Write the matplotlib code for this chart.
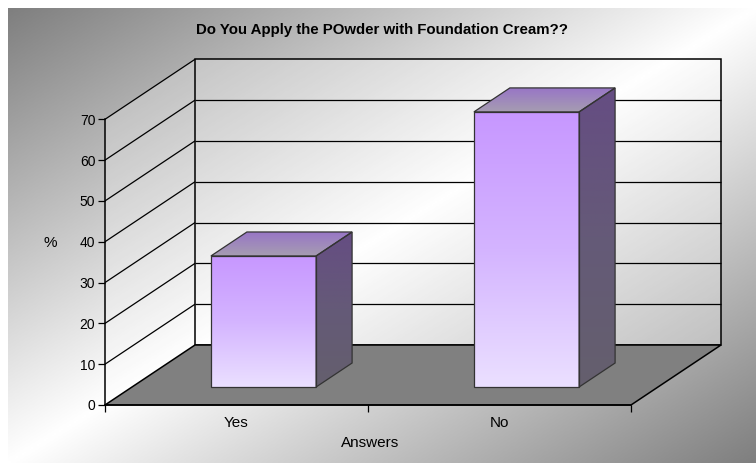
import numpy as np
import matplotlib
matplotlib.use('Agg')
import matplotlib.pyplot as plt
from matplotlib.patches import Polygon
from matplotlib.transforms import IdentityTransform
from matplotlib.colors import LinearSegmentedColormap

categories = ['Yes', 'No']
values = [32.1, 67.4]
y_ticks = [0, 10, 20, 30, 40, 50, 60, 70]
title = 'Do You Apply the POwder with Foundation Cream??'
x_title = 'Answers'
y_title = '%'

W, H, DPI = 756, 463, 100
DEPTH = (0.90, 0.60)      # inches: shift of the back wall from the front plane
BAR_W = 0.4               # bar width, in category units
BAR_D = (0.3, 0.7)        # bar depth range, fraction of the floor depth

plt.rcParams['font.family'] = ['Liberation Sans', 'DejaVu Sans']

fig = plt.figure(figsize=(W / DPI, H / DPI), dpi=DPI)
fig.patch.set_facecolor('white')

# canvas for the fake 3d drawing (background, walls, floor, bars)
cv = fig.add_axes([0, 0, 1, 1], zorder=0)
cv.set_xlim(0, 1)
cv.set_ylim(0, 1)
cv.set_autoscale_on(False)
cv.axis('off')

xx, yy = np.meshgrid(np.linspace(0, 1, 400), np.linspace(0, 1, 300))
shade = 1 - np.abs(xx + yy - 1)
cv.imshow(shade, cmap=LinearSegmentedColormap.from_list('bg', ['#7f7f7f', '#ffffff']),
          extent=(8 / W, 1, 0, 1 - 8 / H), origin='upper', aspect='auto',
          interpolation='bilinear', zorder=0)

# front plane axes: real axis lines, ticks and labels
ax = fig.add_axes([105 / W, 58 / H, 526 / W, 285.7 / H], zorder=1)
ax.set_xlim(0, len(categories))
ax.set_ylim(0, 70)
ax.set_autoscale_on(False)
ax.patch.set_visible(False)


def proj(x, v, d):
    px, py = ax.transData.transform((x, v))
    return (px + d * DEPTH[0] * fig.dpi, py + d * DEPTH[1] * fig.dpi)


def face(pts, fc='none', ec='black', lw=0.9, z=1):
    p = Polygon([proj(*q) for q in pts], closed=True, transform=IdentityTransform(),
                fc=fc, ec=ec, lw=lw, zorder=z, joinstyle='miter')
    cv.add_patch(p)
    return p


def grad_face(pts, colors, z):
    p = face(pts, fc='none', ec='#333333', lw=0.9, z=z + 0.01)
    xy = p.get_xy()
    cmap = LinearSegmentedColormap.from_list('f', colors[::-1])
    im = cv.imshow(np.linspace(0, 1, 256)[:, None], cmap=cmap, origin='lower',
                   extent=(xy[:, 0].min(), xy[:, 0].max(), xy[:, 1].min(), xy[:, 1].max()),
                   transform=IdentityTransform(), aspect='auto', zorder=z,
                   interpolation='bilinear')
    im.set_clip_path(p)


def line3(a, b, lw=0.9, z=2):
    pa, pb = proj(*a), proj(*b)
    cv.plot([pa[0], pb[0]], [pa[1], pb[1]], color='black', lw=lw,
            transform=IdentityTransform(), zorder=z, solid_capstyle='butt')


n = len(categories)
top = y_ticks[-1]

# walls and floor
face([(0, 0, 0), (0, top, 0), (0, top, 1), (0, 0, 1)], fc=(1, 1, 1, 0.25), ec='none', z=1)
face([(0, 0, 1), (n, 0, 1), (n, top, 1), (0, top, 1)], fc=(1, 1, 1, 0.3), ec='black', lw=1.1, z=1)
face([(0, 0, 0), (n, 0, 0), (n, 0, 1), (0, 0, 1)], fc='#808080', ec='black', lw=1.1, z=1.5)

for v in y_ticks[1:]:
    line3((0, v, 0), (0, v, 1))
    if v < top:
        line3((0, v, 1), (n, v, 1))

# bars
for i, v in enumerate(values):
    c = i + 0.5
    x0, x1 = c - BAR_W / 2, c + BAR_W / 2
    d0, d1 = BAR_D
    grad_face([(x0, 0, d0), (x1, 0, d0), (x1, v, d0), (x0, v, d0)],
              ['#c797ff', '#d4b4ff', '#ebe0ff'], 3)
    grad_face([(x1, 0, d0), (x1, 0, d1), (x1, v, d1), (x1, v, d0)],
              ['#654d83', '#655a78', '#645f6d'], 3)
    grad_face([(x0, v, d0), (x1, v, d0), (x1, v, d1), (x0, v, d1)],
              ['#9876c6', '#a69db1'], 3)

# axes styling
for side in ['top', 'right']:
    ax.spines[side].set_visible(False)
for side in ['left', 'bottom']:
    ax.spines[side].set_linewidth(1.1)

ax.set_yticks(y_ticks)
ax.tick_params(axis='y', direction='out', length=5, width=0.9, pad=2, labelsize=10)
ax.set_xticks(range(n + 1))
ax.set_xticklabels([])
ax.set_xticks([i + 0.5 for i in range(n)], minor=True)
ax.set_xticklabels(categories, minor=True)
ax.tick_params(axis='x', which='major', direction='out', length=5, width=0.9)
ax.tick_params(axis='x', which='minor', length=0, pad=8, labelsize=11)

ax.set_ylabel(y_title, rotation=0, fontsize=11)
ax.yaxis.set_label_coords(-0.105, 0.567)
ax.yaxis.label.set_va('center')
ax.set_xlabel(x_title, fontsize=11)
ax.xaxis.set_label_coords(0.504, -0.133)
ax.xaxis.label.set_va('center')

fig.text(382 / W, 1 - 30 / H, title, ha='center', va='center', fontsize=10.8, fontweight='bold')

fig.savefig('out.png', dpi=DPI)
